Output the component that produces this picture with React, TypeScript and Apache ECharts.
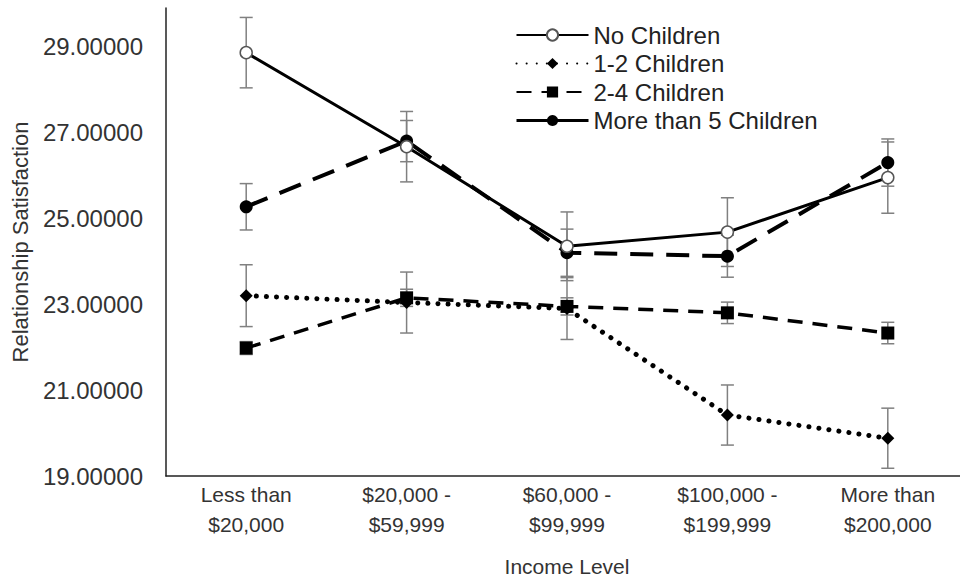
import React, { useEffect, useRef } from "react";
import * as echarts from "echarts";

const categories = [
  "Less than\n$20,000",
  "$20,000 -\n$59,999",
  "$60,000 -\n$99,999",
  "$100,000 -\n$199,999",
  "More than\n$200,000",
];

const seriesNames = ["No Children", "1-2 Children", "2-4 Children", "More than 5 Children"];

const noChildren = [28.86, 26.67, 24.35, 24.68, 25.95];
const noChildrenErr = [0.82, 0.82, 0.8, 0.8, 0.83];
const oneTwo = [23.2, 23.04, 22.9, 20.42, 19.88];
const oneTwoErr = [0.72, 0.71, 0.72, 0.7, 0.7];
const twoFour = [21.98, 23.15, 22.95, 22.8, 22.33];
const twoFourErr = [0.15, 0.2, 0.2, 0.25, 0.25];
const moreFive = [25.27, 26.8, 24.2, 24.12, 26.3];
const moreFiveErr = [0.54, 0.48, 0.55, 0.49, 0.55];

const yTicks = [19, 21, 23, 25, 27, 29];

const FONT = "'Liberation Sans', Arial, sans-serif";

function errData(vals: number[], errs: number[]) {
  return vals.map((v, i) => [i, v, errs[i]]);
}

const renderErr = (params: any, api: any) => {
  const x = api.value(0);
  const y = api.value(1);
  const e = api.value(2);
  const top = api.coord([x, y + e]);
  const bot = api.coord([x, y - e]);
  const hw = 6.5;
  const style = { stroke: "#808080", lineWidth: 1.5 };
  return {
    type: "group",
    children: [
      { type: "line", shape: { x1: top[0], y1: top[1], x2: bot[0], y2: bot[1] }, style },
      { type: "line", shape: { x1: top[0] - hw, y1: top[1], x2: top[0] + hw, y2: top[1] }, style },
      { type: "line", shape: { x1: bot[0] - hw, y1: bot[1], x2: bot[0] + hw, y2: bot[1] }, style },
    ],
  };
};

export default function App() {
  const ref = useRef<HTMLDivElement>(null);
  useEffect(() => {
    if (!ref.current) return;
    const chart = echarts.init(ref.current, undefined, { renderer: "svg" });
    const errSeries = (vals: number[], errs: number[]) => ({
      type: "custom",
      renderItem: renderErr,
      data: errData(vals, errs),
      encode: { x: 0, y: 1 },
      z: 1,
      silent: true,
    });
    chart.setOption({
      animation: false,
      backgroundColor: "#fff",
      textStyle: { fontFamily: FONT },
      grid: { left: 166, right: -8, top: 8, bottom: 111, outerBoundsMode: "none", containLabel: false },
      legend: {
        orient: "vertical",
        left: 510,
        top: 18,
        itemWidth: 72,
        itemHeight: 14,
        itemGap: 4.5,
        textStyle: { fontFamily: FONT, fontSize: 24, color: "#222" },
        data: [
          { name: seriesNames[0] },
          { name: seriesNames[1] },
          { name: seriesNames[2] },
          { name: seriesNames[3], lineStyle: { type: "solid", width: 3 } },
        ],
      },
      xAxis: {
        type: "category",
        data: categories,
        boundaryGap: true,
        axisLine: { lineStyle: { color: "#222", width: 1.5 } },
        axisTick: { show: false },
        axisLabel: { fontFamily: FONT, fontSize: 21, color: "#333", lineHeight: 30, margin: 3, interval: 0 },
        name: "Income Level",
        nameLocation: "middle",
        nameGap: 80,
        nameTextStyle: { fontFamily: FONT, fontSize: 21, color: "#333" },
        splitLine: { show: false },
      },
      yAxis: {
        type: "value",
        min: 19,
        max: 29.9,
        interval: 2,
        axisLine: { show: true, lineStyle: { color: "#222", width: 1.5 } },
        axisTick: { show: false },
        splitLine: { show: false },
        axisLabel: {
          fontFamily: FONT,
          fontSize: 24,
          color: "#333",
          margin: 23,
          formatter: (v: number) => (yTicks.indexOf(v) >= 0 ? v.toFixed(5) : ""),
        },
        name: "Relationship Satisfaction",
        nameLocation: "middle",
        nameGap: 135,
        nameTextStyle: { fontFamily: FONT, fontSize: 22, color: "#333" },
      },
      series: [
        errSeries(noChildren, noChildrenErr),
        errSeries(oneTwo, oneTwoErr),
        errSeries(twoFour, twoFourErr),
        errSeries(moreFive, moreFiveErr),
        {
          name: seriesNames[0],
          type: "line",
          data: noChildren,
          symbol: "circle",
          symbolSize: 12,
          z: 4,
          lineStyle: { color: "#000", width: 3, type: "solid" },
          itemStyle: { color: "#fff", borderColor: "#555", borderWidth: 1.5 },
        },
        {
          name: seriesNames[1],
          type: "line",
          data: oneTwo,
          symbol: "diamond",
          symbolSize: 13,
          z: 3,
          lineStyle: { color: "#000", width: 5, type: [0.1, 10], cap: "round" },
          itemStyle: { color: "#000" },
        },
        {
          name: seriesNames[2],
          type: "line",
          data: twoFour,
          symbol: "rect",
          symbolSize: 13,
          z: 3,
          lineStyle: { color: "#000", width: 3.5, type: [15, 10] },
          itemStyle: { color: "#000" },
        },
        {
          name: seriesNames[3],
          type: "line",
          data: moreFive,
          symbol: "circle",
          symbolSize: 13,
          z: 3,
          lineStyle: { color: "#000", width: 4, type: [23, 13] },
          itemStyle: { color: "#000" },
        },
      ],
    });
    return () => chart.dispose();
  }, []);
  return (
    <div
      ref={ref}
      style={{ position: "fixed", left: 0, top: 0, width: 960, height: 587, background: "#fff" }}
    />
  );
}
